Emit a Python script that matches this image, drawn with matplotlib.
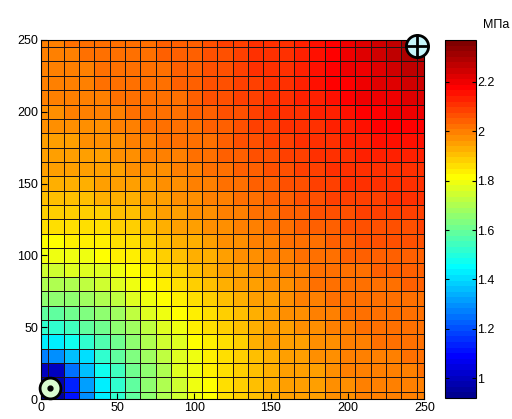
import numpy as np
import matplotlib
matplotlib.use('Agg')
import matplotlib.pyplot as plt
from matplotlib.colors import ListedColormap

## GRID (cell centres, m)
x_m = [0, 10, 20, 30, 40, 50, 60, 70, 80, 90, 100, 110, 120, 130, 140, 150, 160, 170, 180, 190, 200, 210, 220, 230, 240, 250]
y_m = [0, 10, 20, 30, 40, 50, 60, 70, 80, 90, 100, 110, 120, 130, 140, 150, 160, 170, 180, 190, 200, 210, 220, 230, 240, 250]

## PRESSURE, hundredths of MPa, one row per y (bottom row first)
p_rows = [
    [92, 95, 112, 130, 142, 152, 159, 165, 170, 175, 179, 182, 185, 188, 190, 192, 194, 195, 196, 197, 198, 199, 199, 199, 200, 200],
    [95, 97, 114, 131, 143, 153, 159, 165, 170, 175, 179, 182, 185, 188, 190, 192, 194, 195, 196, 197, 198, 199, 199, 200, 200, 200],
    [100, 101, 124, 137, 147, 155, 161, 166, 171, 176, 180, 183, 185, 188, 190, 192, 194, 195, 196, 198, 199, 199, 200, 200, 200, 201],
    [127, 129, 137, 140, 152, 158, 163, 168, 173, 177, 180, 183, 186, 189, 191, 193, 195, 196, 197, 198, 199, 199, 200, 200, 201, 201],
    [142, 143, 147, 152, 157, 161, 166, 170, 175, 178, 181, 184, 187, 189, 192, 194, 195, 196, 197, 198, 199, 200, 201, 201, 201, 201],
    [152, 153, 155, 158, 161, 165, 169, 173, 177, 180, 183, 185, 188, 190, 192, 195, 196, 197, 198, 199, 200, 201, 201, 201, 202, 202],
    [159, 159, 161, 163, 166, 169, 172, 176, 179, 182, 184, 187, 189, 191, 193, 195, 197, 198, 199, 200, 201, 201, 202, 202, 202, 203],
    [165, 165, 166, 168, 170, 173, 176, 179, 181, 184, 186, 189, 191, 193, 195, 196, 197, 199, 200, 201, 201, 202, 202, 203, 203, 203],
    [170, 170, 171, 173, 175, 177, 179, 181, 183, 186, 188, 190, 192, 194, 196, 197, 198, 199, 201, 201, 202, 203, 203, 203, 204, 204],
    [175, 175, 176, 177, 178, 180, 182, 184, 186, 188, 190, 192, 194, 196, 197, 198, 199, 200, 201, 202, 203, 203, 204, 204, 204, 204],
    [179, 179, 180, 180, 181, 183, 184, 186, 188, 190, 192, 193, 195, 197, 198, 199, 200, 201, 202, 203, 204, 204, 205, 205, 205, 205],
    [182, 182, 183, 183, 184, 185, 187, 189, 190, 192, 193, 195, 197, 198, 199, 200, 201, 203, 203, 204, 205, 206, 206, 206, 206, 206],
    [185, 185, 185, 186, 187, 188, 189, 191, 192, 194, 195, 197, 198, 199, 200, 201, 203, 204, 205, 205, 206, 207, 207, 207, 207, 208],
    [188, 188, 188, 189, 189, 190, 191, 193, 194, 196, 197, 198, 199, 200, 201, 203, 204, 205, 206, 206, 207, 208, 208, 208, 208, 208],
    [190, 190, 190, 191, 192, 192, 193, 195, 196, 197, 198, 199, 200, 201, 203, 204, 205, 206, 207, 208, 208, 209, 209, 210, 210, 210],
    [192, 192, 192, 193, 194, 195, 195, 196, 197, 198, 199, 200, 201, 203, 204, 205, 206, 207, 208, 209, 210, 210, 210, 211, 211, 211],
    [194, 194, 194, 195, 195, 196, 197, 197, 198, 199, 200, 201, 203, 204, 205, 206, 207, 208, 209, 210, 211, 211, 212, 212, 212, 212],
    [195, 195, 195, 196, 196, 197, 198, 199, 199, 200, 201, 203, 204, 205, 206, 207, 208, 209, 210, 211, 212, 213, 213, 214, 214, 214],
    [196, 196, 196, 197, 197, 198, 199, 200, 201, 201, 202, 203, 205, 206, 207, 208, 209, 210, 211, 212, 213, 214, 215, 215, 216, 216],
    [197, 197, 198, 198, 198, 199, 200, 201, 201, 202, 203, 204, 205, 206, 208, 209, 210, 211, 212, 213, 214, 216, 217, 217, 218, 218],
    [198, 198, 199, 199, 199, 200, 201, 201, 202, 203, 204, 205, 206, 207, 208, 210, 211, 212, 213, 214, 216, 217, 218, 219, 220, 220],
    [199, 199, 199, 199, 200, 201, 201, 202, 203, 203, 204, 206, 207, 208, 209, 210, 211, 213, 214, 216, 217, 219, 220, 221, 222, 222],
    [199, 199, 200, 200, 201, 201, 202, 202, 203, 204, 205, 206, 207, 208, 209, 210, 212, 213, 215, 217, 218, 220, 222, 223, 224, 224],
    [199, 200, 200, 200, 201, 201, 202, 203, 203, 204, 205, 206, 207, 208, 210, 211, 212, 214, 215, 217, 219, 221, 223, 225, 226, 227],
    [200, 200, 200, 201, 201, 202, 202, 203, 204, 204, 205, 206, 207, 208, 210, 211, 212, 214, 216, 218, 220, 222, 224, 226, 229, 231],
    [200, 200, 201, 201, 201, 202, 203, 203, 204, 204, 205, 206, 208, 208, 210, 211, 212, 214, 216, 218, 220, 222, 224, 227, 231, 237],
]

## WELLS
prod_xy = [6, 8]
inj_xy = [245, 246]

cbar_ticks = [1, 1.2, 1.4, 1.6, 1.8, 2, 2.2]
cbar_labels = ['1', '1.2', '1.4', '1.6', '1.8', '2', '2.2']

pressure = np.array(p_rows) / 100.0

## MATLAB style jet(64)
m = 64
n = int(np.ceil(m / 4))
u = np.concatenate([np.arange(1, n + 1) / n, np.ones(n - 1), np.arange(n, 0, -1) / n])
g = int(np.ceil(n / 2)) - (m % 4 == 1) + np.arange(1, len(u) + 1)
r = g + n
b = g - n
jet = np.zeros((m, 3))
for idx, chan in ((r, 0), (g, 1), (b, 2)):
    ok = (idx >= 1) & (idx <= m)
    jet[idx[ok] - 1, chan] = u[ok]
cmap = ListedColormap(jet)

plt.rcParams['font.family'] = ['Liberation Sans', 'DejaVu Sans']
fig = plt.figure(figsize=(5.12, 4.19), dpi=100)
ax = fig.add_axes([0.0795, 0.0477, 0.7495, 0.857])
mesh = ax.pcolormesh(x_m, y_m, pressure, shading='nearest', cmap=cmap,
                     vmin=pressure.min(), vmax=pressure.max(),
                     edgecolors='#1e1414', linewidth=0.7)
ax.set_xlim(0, 250)
ax.set_ylim(0, 250)
ax.set_xticks([0, 50, 100, 150, 200, 250])
ax.set_yticks([0, 50, 100, 150, 200, 250])
ax.tick_params(direction='in', length=4, labelsize=9, pad=2)

## well markers
ax.plot(prod_xy[0], prod_xy[1], 'o', ms=15, mfc='#d9fbd0', mec='k', mew=2, clip_on=False, zorder=5)
ax.plot(prod_xy[0], prod_xy[1], 'o', ms=3.5, mfc='k', mec='k', clip_on=False, zorder=6)
ax.plot(inj_xy[0], inj_xy[1], 'o', ms=16, mfc='#c6f6fb', mec='k', mew=2, clip_on=False, zorder=5)
ax.plot(inj_xy[0], inj_xy[1], '+', ms=16, mec='k', mew=2, clip_on=False, zorder=6)

cax = fig.add_axes([0.869, 0.0501, 0.061, 0.8545])
cb = fig.colorbar(mesh, cax=cax, ticks=cbar_ticks)
cb.ax.set_yticklabels(cbar_labels)
cb.ax.tick_params(direction='in', length=3, labelsize=9, pad=1, left=True, right=True)
fig.text(0.969, 0.94, 'МПа', ha='center', va='center', fontsize=9)
fig.savefig('out.png', dpi=100)
